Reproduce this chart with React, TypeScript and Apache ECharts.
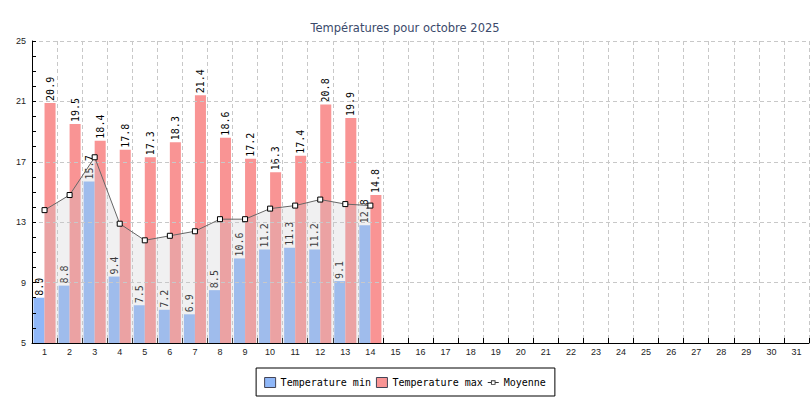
import React, { useEffect, useRef } from "react";
import * as echarts from "echarts";

const days = ["1","2","3","4","5","6","7","8","9","10","11","12","13","14","15","16","17","18","19","20","21","22","23","24","25","26","27","28","29","30","31"];
const tempMin = [8.0, 8.8, 15.7, 9.4, 7.5, 7.2, 6.9, 8.5, 10.6, 11.2, 11.3, 11.2, 9.1, 12.8];
const tempMax = [20.9, 19.5, 18.4, 17.8, 17.3, 18.3, 21.4, 18.6, 17.2, 16.3, 17.4, 20.8, 19.9, 14.8];
const moyenne = [13.8, 14.8, 17.3, 12.9, 11.8, 12.1, 12.4, 13.2, 13.2, 13.9, 14.1, 14.5, 14.2, 14.1];
const yLabels = [5, 9, 13, 17, 21, 25];

const lineIcon =
  "path://M0,4.5H3.5V5.5H0Z M8.5,4.5H12V5.5H8.5Z M3.5,2.5H8.5V7.5H3.5Z M4.5,3.5V6.5H7.5V3.5Z";

export default function App() {
  const ref = useRef<HTMLDivElement>(null);
  useEffect(() => {
    if (!ref.current) return;
    const chart = echarts.init(ref.current, null, { renderer: "svg" });
    const barLabel = {
      show: true,
      position: "top",
      rotate: 90,
      align: "left",
      verticalAlign: "middle",
      distance: 2,
      color: "#000",
      fontFamily: "DejaVu Sans Mono",
      fontSize: 10,
      formatter: (p: any) => Number(p.value).toFixed(1),
    };
    chart.setOption({
      animation: false,
      backgroundColor: "#fff",
      title: {
        text: "Températures pour octobre 2025",
        left: "center",
        top: 17,
        textStyle: {
          fontFamily: "DejaVu Sans",
          fontSize: 11.5,
          fontWeight: "normal",
          color: "#3b4a6b",
        },
      },
      legend: {
        bottom: 4,
        left: "center",
        orient: "horizontal",
        backgroundColor: "#fff",
        borderColor: "#000",
        borderWidth: 1,
        borderRadius: 0,
        padding: [9, 9, 8, 8],
        itemGap: 5,
        itemWidth: 11,
        itemHeight: 10,
        textStyle: { fontFamily: "DejaVu Sans Mono", fontSize: 10, color: "#000" },
        data: [
          { name: "Temperature min", icon: "rect", itemStyle: { borderColor: "#445", borderWidth: 1 } },
          { name: "Temperature max", icon: "rect", itemStyle: { borderColor: "#445", borderWidth: 1 } },
          { name: "Moyenne", icon: lineIcon, itemStyle: { color: "#333", borderWidth: 0 } },
        ],
      },
      grid: { left: 32, right: 1, top: 41, bottom: 57 },
      xAxis: {
        type: "category",
        data: days,
        boundaryGap: true,
        z: 2,
        axisLine: { lineStyle: { color: "#000", width: 1 } },
        axisTick: { show: true, inside: true, length: 5, interval: 0, lineStyle: { color: "#000" } },
        axisLabel: { interval: 0, fontFamily: "Liberation Sans", fontSize: 9, color: "#222", margin: 4 },
        splitLine: { show: true, interval: 0, lineStyle: { color: "#c8c8c8", type: [4, 3] } },
      },
      yAxis: {
        type: "value",
        min: 5,
        max: 25,
        interval: 1,
        z: 2,
        axisLine: { show: true, lineStyle: { color: "#000", width: 1 } },
        axisTick: { show: true, inside: true, length: 4, lineStyle: { color: "#000" } },
        axisLabel: {
          fontFamily: "Liberation Sans",
          fontSize: 9,
          color: "#222",
          margin: 6,
          formatter: (v: number) => (yLabels.includes(v) ? String(v) : ""),
        },
        splitLine: {
          show: true,
          lineStyle: {
            color: ["#c8c8c8", "rgba(0,0,0,0)", "rgba(0,0,0,0)", "rgba(0,0,0,0)"],
            type: [4, 3],
          },
        },
      },
      series: [
        {
          name: "Temperature min",
          type: "bar",
          data: tempMin,
          barGap: "0%",
          barCategoryGap: "12%",
          itemStyle: { color: "#8fb7f8" },
          label: barLabel,
          z: 1,
        },
        {
          name: "Temperature max",
          type: "bar",
          data: tempMax,
          barGap: "0%",
          barCategoryGap: "12%",
          itemStyle: { color: "#f99494" },
          label: barLabel,
          z: 1,
        },
        {
          name: "Moyenne",
          type: "line",
          data: moyenne,
          symbol: "rect",
          symbolSize: 5,
          showAllSymbol: true,
          lineStyle: { color: "#666", width: 1 },
          itemStyle: { color: "#fff", borderColor: "#000", borderWidth: 1 },
          areaStyle: { color: "rgba(200,200,204,0.4)", origin: "start" },
          z: 3,
        },
      ],
    });
    return () => chart.dispose();
  }, []);
  return (
    <div
      ref={ref}
      style={{ position: "fixed", left: 0, top: 0, width: 810, height: 400 }}
    />
  );
}
